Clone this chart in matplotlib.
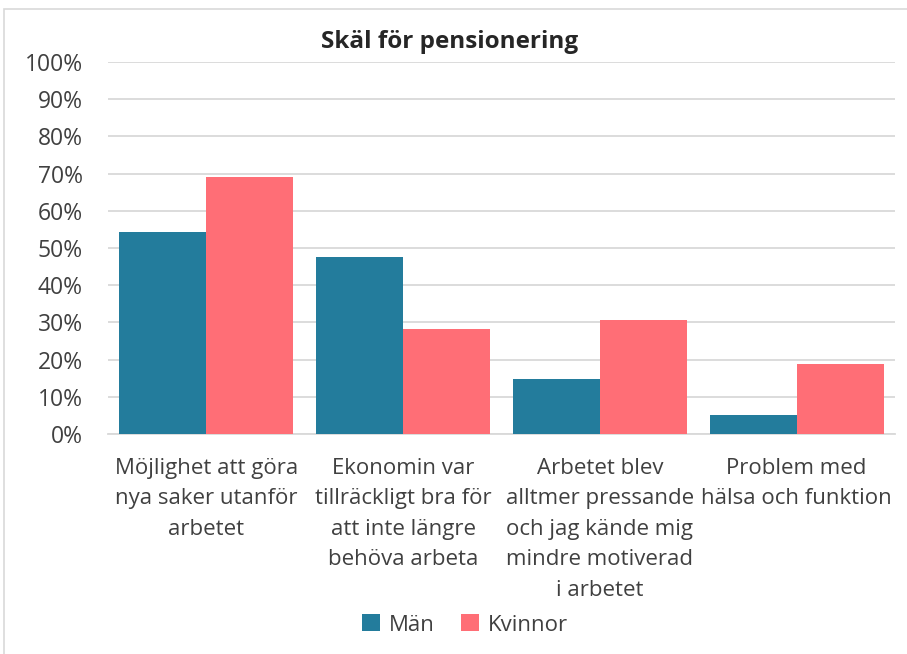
import numpy as np
import matplotlib.pyplot as plt
from matplotlib.patches import Rectangle

## Data
categories = ["Möjlighet att göra\nnya saker utanför\narbetet",
              "Ekonomin var\ntillräckligt bra för\natt inte längre\nbehöva arbeta",
              "Arbetet blev\nalltmer pressande\noch jag kände mig\nmindre motiverad\ni arbetet",
              "Problem med\nhälsa och funktion"]
man = [54.3, 47.5, 14.8, 5.0]
kvinnor = [69.0, 28.2, 30.6, 18.8]
series_names = ["Män", "Kvinnor"]
yticks = np.arange(0, 101, 10)

plt.rcParams['font.family'] = ['Open Sans', 'DejaVu Sans']
text_col = '#404040'

fig = plt.figure(figsize=(9.07, 6.54), dpi=100)
ax = fig.add_axes([108/907, 1-434/654, 787/907, 372/654])

x = np.arange(len(categories))
w = 0.442
ax.bar(x - w/2, man, width=w, color='#237C9C', label=series_names[0], zorder=3)
ax.bar(x + w/2, kvinnor, width=w, color='#FF6E76', label=series_names[1], zorder=3)

ax.set_xlim(-0.5, len(categories) - 0.5)
ax.set_ylim(0, 100)
ax.set_yticks(yticks)
ax.set_yticklabels([f"{v}%" for v in yticks], fontsize=16.5, color=text_col)
ax.set_xticks(x)
ax.set_xticklabels(categories, fontsize=16, color=text_col, linespacing=1.6, va='top')
ax.tick_params(axis='both', length=0)
ax.tick_params(axis='y', pad=18)
ax.tick_params(axis='x', pad=17)
ax.grid(axis='y', color='#D9D9D9', linewidth=1.3, zorder=0)
for s in ['top', 'right', 'left']:
    ax.spines[s].set_visible(False)
ax.spines['bottom'].set_color('#D9D9D9')
ax.spines['bottom'].set_linewidth(1.3)

fig.text(450/907, 1-42/654, "Skäl för pensionering", fontsize=17.5, fontweight='bold',
         color='#262626', ha='center', va='center')

fig.legend(loc='center', bbox_to_anchor=(465/907, 1-625/654), ncol=2, frameon=False,
           fontsize=16, handlelength=0.8, handleheight=0.8, handletextpad=0.4,
           columnspacing=1.2, labelcolor=text_col)

## chart frame
fig.patches.append(Rectangle((4/907, -0.1), 1.1, 1 - 9/654 + 0.1, transform=fig.transFigure,
                             fill=False, edgecolor='#D9D9D9', linewidth=1.2))

fig.savefig("out.png", dpi=100)
